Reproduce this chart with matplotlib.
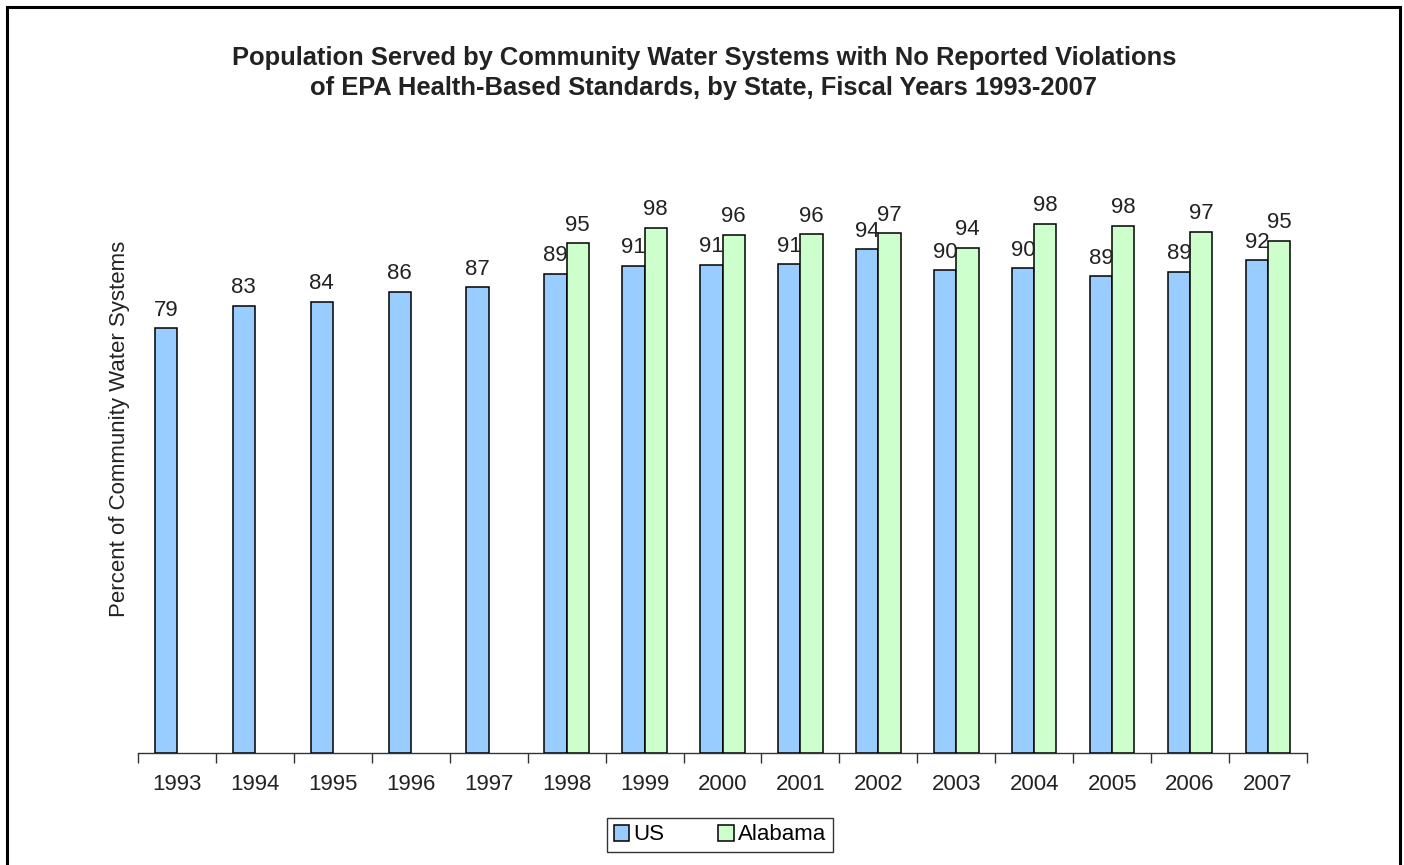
import matplotlib
matplotlib.use("Agg")
import matplotlib.pyplot as plt
from matplotlib.patches import Rectangle
import numpy as np

plt.rcParams['font.family'] = ['Liberation Sans', 'DejaVu Sans']

years = ["1993", "1994", "1995", "1996", "1997", "1998", "1999", "2000",
         "2001", "2002", "2003", "2004", "2005", "2006", "2007"]
us = [78.97, 83.12, 83.92, 85.72, 86.59, 89.07, 90.61, 90.80,
      90.87, 93.66, 89.75, 90.13, 88.64, 89.49, 91.61]
alabama = [None, None, None, None, None, 94.77, 97.68, 96.30,
           96.45, 96.60, 93.96, 98.36, 98.05, 96.93, 95.26]

title = ("Population Served by Community Water Systems with No Reported Violations\n"
         "of EPA Health-Based Standards, by State, Fiscal Years 1993-2007")
ylabel = "Percent of Community Water Systems"

W, H = 1404, 865
fig = plt.figure(figsize=(W / 100, H / 100), dpi=100)
ax = fig.add_axes([138 / W, 1 - 753 / H, (1307 - 138) / W, (753 - 107.6) / H])

x = np.arange(len(years))
bw = 0.285
us_col = "#99CCFF"
al_col = "#CCFFCC"
txt_col = "#222222"

bars_us = ax.bar(x - bw / 2, us, width=bw, color=us_col, edgecolor="black",
                 linewidth=1.1, label="US", zorder=3)
al_idx = [i for i, v in enumerate(alabama) if v is not None]
al_vals = [alabama[i] for i in al_idx]
bars_al = ax.bar(x[al_idx] + bw / 2, al_vals, width=bw, color=al_col,
                 edgecolor="black", linewidth=1.1, label="Alabama", zorder=3)

for b, v in zip(bars_us, us):
    ax.annotate(f"{v:.0f}", (b.get_x() + b.get_width() / 2, v),
                xytext=(0, 5.5), textcoords="offset points", ha="center",
                va="bottom", fontsize=16, color=txt_col, zorder=5)
for b, v in zip(bars_al, al_vals):
    ax.annotate(f"{v:.0f}", (b.get_x() + b.get_width() / 2, v),
                xytext=(0, 5.5), textcoords="offset points", ha="center",
                va="bottom", fontsize=16, color=txt_col, zorder=5)

ax.set_xlim(-0.5, len(years) - 0.5)
ax.set_ylim(0, 120)
for s in ["top", "right", "left"]:
    ax.spines[s].set_visible(False)
ax.spines["bottom"].set_linewidth(1.0)
ax.spines["bottom"].set_color("#333333")
ax.set_yticks([])
ax.set_xticks(x)
ax.set_xticklabels(years, fontsize=16, color=txt_col)
ax.tick_params(axis="x", which="major", length=0, pad=15)
ax.set_xticks(np.arange(-0.5, len(years)), minor=True)
ax.tick_params(axis="x", which="minor", length=7, width=1.0, color="#333333")

fig.text(120 / W, 1 - 429 / H, ylabel, rotation=90, ha="center", va="center",
         fontsize=16, color=txt_col)
fig.text(704 / W, 1 - 73 / H, title, ha="center", va="center", fontsize=18.4,
         fontweight="bold", color=txt_col, linespacing=1.33)

leg = fig.legend(handles=[bars_us, bars_al], labels=["US", "Alabama"],
                 loc="center", bbox_to_anchor=(720 / W, 1 - 835 / H),
                 ncol=2, fontsize=16, frameon=True, fancybox=False,
                 handlelength=0.7, handleheight=0.7, handletextpad=0.2,
                 columnspacing=2.4, borderpad=0.3)
leg.get_frame().set_edgecolor("black")
leg.get_frame().set_linewidth(1.0)

border = Rectangle((7 / W, -0.05), (1400 - 7) / W, 1 - 7 / H + 0.05,
                   transform=fig.transFigure, fill=False, edgecolor="black",
                   linewidth=2.2, clip_on=False)
fig.patches.append(border)

fig.savefig("out.png", dpi=100)
